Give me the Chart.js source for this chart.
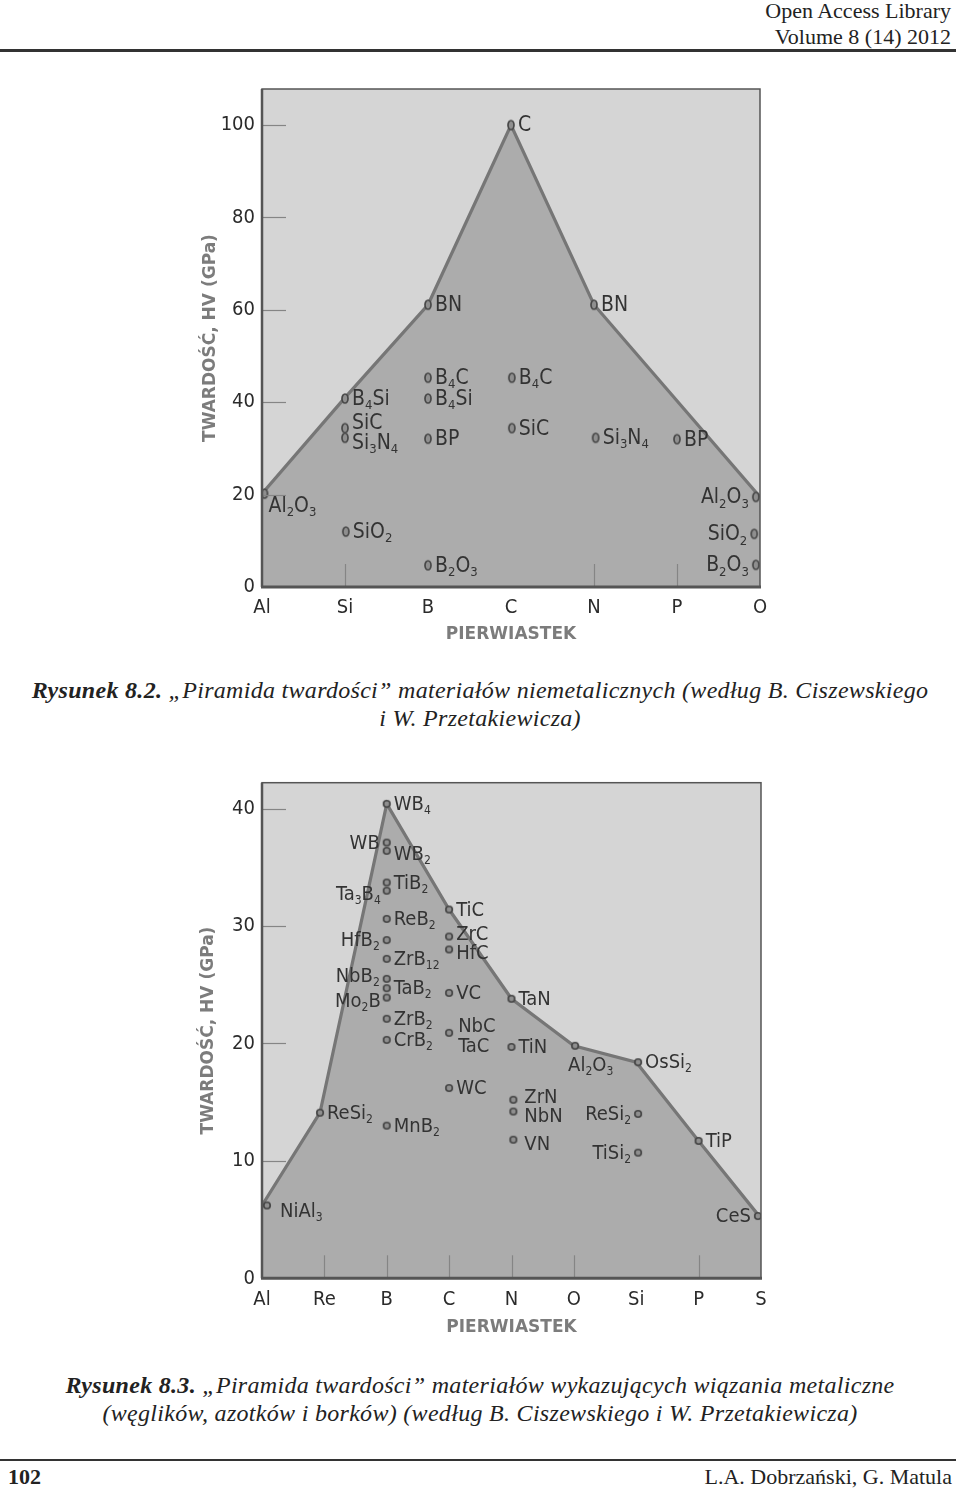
<!DOCTYPE html>
<html lang="pl">
<head>
<meta charset="UTF-8">
<title>Piramida twardości</title>
<script src="https://cdn.jsdelivr.net/npm/chart.js@4.4.1/dist/chart.umd.min.js"></script>
<style>
  body { margin: 0; background: #fff; }
  #page { position: relative; width: 960px; height: 1492px; overflow: hidden;
          font-family: "Liberation Serif", "Times New Roman", serif; color: #222; }
  .head { position: absolute; right: 9px; top: -2px; text-align: right; font-size: 22px; line-height: 26px; }
  .rule { position: absolute; left: 0; width: 956px; background: #333; }
  .cap { position: absolute; left: 0; width: 960px; text-align: center; font-style: italic;
         font-size: 24px; letter-spacing: 0.3px; line-height: 28px; white-space: nowrap; }
  .foot { position: absolute; top: 1464px; font-size: 22px; line-height: 26px; }
  .box { position: absolute; left: 0; width: 960px; height: 590px; }
</style>
</head>
<body>
<div id="page">
  <div class="head">Open Access Library<br>Volume 8 (14) 2012</div>
  <div class="rule" style="top:49px;height:3px"></div>

  <div class="box" style="top:70px"><canvas id="chart82" width="960" height="590"></canvas></div>
  <div class="cap" style="top:676px"><b>Rysunek 8.2.</b> „Piramida twardości” materiałów niemetalicznych (według B. Ciszewskiego<br>i W. Przetakiewicza)</div>

  <div class="box" style="top:760px"><canvas id="chart83" width="960" height="590"></canvas></div>
  <div class="cap" style="top:1371px"><b>Rysunek 8.3.</b> „Piramida twardości” materiałów wykazujących wiązania metaliczne<br>(węglików, azotków i borków) (według B. Ciszewskiego i W. Przetakiewicza)</div>

  <div class="rule" style="top:1459px;height:2px"></div>
  <div class="foot" style="left:8px;font-weight:bold">102</div>
  <div class="foot" style="right:8px">L.A. Dobrzański, G. Matula</div>
</div>

<script>
  const FONT = '"DejaVu Sans Condensed", "Liberation Sans Narrow", Roboto, sans-serif';
  const FONT_B = '"DejaVu Sans", Roboto, sans-serif';

  // Rysunek 8.2 - materialy niemetaliczne
  const elements1 = ['Al', 'Si', 'B', 'C', 'N', 'P', 'O'];
  const tickMarks1 = [1, 4, 5];
  const edgeX1 = [0, 1, 2, 3, 4, 6];
  const edgeY1 = [20.2, 41, 61.1, 100, 61.1, 19.5];
  const names1 = ['Al2O3', 'B4Si', 'SiC', 'Si3N4', 'SiO2', 'BN', 'B4C', 'B4Si', 'BP', 'B2O3',
                  'C', 'B4C', 'SiC', 'BN', 'Si3N4', 'BP', 'Al2O3', 'SiO2', 'B2O3'];
  const posX1 = [0.03, 1, 1, 1, 1.01, 2, 2, 2, 2, 2, 3, 3.01, 3.01, 4, 4.02, 5, 5.95, 5.93, 5.95];
  const hv1 = [20.2, 40.8, 34.4, 32.3, 12, 61.1, 45.3, 40.8, 32.1, 4.7, 100, 45.3, 34.4, 61.1, 32.3, 32, 19.5, 11.5, 4.8];
  const place1 = ['rb', 'r', 'r--', 'r++', 'r', 'r', 'r', 'r', 'r', 'r', 'r', 'r', 'r', 'r', 'r', 'r', 'l', 'l', 'l'];

  // Rysunek 8.3 - materialy z wiazaniem metalicznym
  const elements2 = ['Al', 'Re', 'B', 'C', 'N', 'O', 'Si', 'P', 'S'];
  const tickMarks2 = [1, 2, 3, 4, 5, 7];
  const edgeX2 = [0, 0.93, 2, 3, 4, 5, 6, 7, 8];
  const edgeY2 = [6.2, 14.1, 40.4, 31.4, 23.8, 19.8, 18.4, 11.7, 5.1];
  const names2 = ['NiAl3', 'ReSi2', 'WB4', 'WB', 'WB2', 'TiB2', 'Ta3B4', 'ReB2', 'HfB2', 'ZrB12', 'NbB2',
                  'TaB2', 'Mo2B', 'ZrB2', 'CrB2', 'MnB2', 'TiC', 'ZrC', 'HfC', 'VC', 'NbC\nTaC', 'WC',
                  'TaN', 'TiN', 'ZrN', 'NbN', 'VN', 'Al2O3', 'OsSi2', 'ReSi2', 'TiSi2', 'TiP', 'CeS'];
  const posX2 = [0.08, 0.93, 2, 2, 2, 2, 2, 2, 2, 2, 2, 2, 2, 2, 2, 2, 3, 3, 3, 3, 3, 3,
                 4, 4, 4.03, 4.03, 4.03, 5.02, 6.03, 6.03, 6.03, 7, 7.95];
  const hv2 = [6.2, 14.1, 40.4, 37.1, 36.4, 33.7, 33.0, 30.6, 28.8, 27.2, 25.5, 24.7, 23.9, 22.1, 20.3, 13.0,
               31.4, 29.1, 28.0, 24.3, 20.9, 16.2, 23.8, 19.7, 15.2, 14.2, 11.8, 19.8, 18.4, 14.0, 10.7, 11.7, 5.3];
  const place2 = ['rni', 'r', 'r', 'l', 'r+', 'r', 'l+', 'r', 'l', 'r', 'l-', 'r', 'l+', 'r', 'r', 'r',
                  'r', 'r-', 'r+', 'r', 'ru', 'r', 'r', 'r', 'rz', 'rn', 'rn', 'b', 'r', 'l', 'l', 'r', 'l'];

  // przesuniecie opisu wzgledem punktu: dx, dy, wyrownanie
  const PLACE = {
    'r': [7, 1, 'left'], 'r+': [7, 4, 'left'], 'r-': [7, -2, 'left'],
    'r++': [7, 6, 'left'], 'r--': [7, -5, 'left'],
    'l': [-7, 1, 'right'], 'l+': [-6, 4, 'right'], 'l-': [-7, -2, 'right'],
    'rb': [4, 13, 'left'], 'rz': [11, -2, 'left'], 'rn': [11, 5, 'left'],
    'ru': [9, -6, 'left'], 'b': [-7, 20, 'left'], 'rni': [13, 6, 'left']
  };

  // wzor chemiczny: cyfry jako indeksy dolne
  function drawFormula(ctx, txt, x, y, align, size) {
    const parts = txt.split(/(\d+)/).filter(s => s);
    const sub = Math.round(size * 0.62);
    let w = 0;
    parts.forEach(p => {
      ctx.font = (/^\d/.test(p) ? sub : size) + 'px ' + FONT;
      w += ctx.measureText(p).width;
    });
    let cx = align === 'right' ? x - w : x;
    ctx.textAlign = 'left';
    ctx.textBaseline = 'middle';
    parts.forEach(p => {
      const isSub = /^\d/.test(p);
      ctx.font = (isSub ? sub : size) + 'px ' + FONT;
      ctx.fillText(p, cx, isSub ? y + size * 0.3 : y);
      cx += ctx.measureText(p).width;
    });
  }

  // znacznik punktu (elipsa)
  function dot(w, h) {
    const c = document.createElement('canvas');
    c.width = w + 4; c.height = h + 4;
    const g = c.getContext('2d');
    g.beginPath();
    g.ellipse(c.width / 2, c.height / 2, w / 2, h / 2, 0, 0, Math.PI * 2);
    g.fillStyle = '#8f8f8f';
    g.fill();
    g.lineWidth = 1.7;
    g.strokeStyle = '#474747';
    g.stroke();
    return c;
  }

  function pyramid(id, o) {
    const pts = o.x.map((x, i) => ({ x: x, y: o.y[i] }));
    const edge = o.edgeX.map((x, i) => ({ x: x, y: o.edgeY[i] }));

    const deco = {
      id: 'deco',
      beforeDatasetsDraw(chart) {
        const a = chart.chartArea, ctx = chart.ctx;
        ctx.save();
        ctx.fillStyle = '#d5d5d5';
        ctx.fillRect(a.left, a.top, a.width, a.height);
        ctx.restore();
      },
      afterDatasetsDraw(chart) {
        const a = chart.chartArea, ctx = chart.ctx;
        const sx = chart.scales.x, sy = chart.scales.y;
        ctx.save();
        ctx.strokeStyle = '#858585';
        ctx.lineWidth = 1.2;
        sy.ticks.forEach(t => {
          if (t.value <= 0) return;
          const py = Math.round(sy.getPixelForValue(t.value)) + 0.5;
          ctx.beginPath(); ctx.moveTo(a.left, py); ctx.lineTo(a.left + 24, py); ctx.stroke();
        });
        o.tickMarks.forEach(v => {
          const px = Math.round(sx.getPixelForValue(v)) + 0.5;
          ctx.beginPath(); ctx.moveTo(px, a.bottom); ctx.lineTo(px, a.bottom - 23); ctx.stroke();
        });
        ctx.fillStyle = '#333';
        o.names.forEach((n, i) => {
          const pl = PLACE[o.place[i]];
          const px = sx.getPixelForValue(o.x[i]) + pl[0];
          const py = sy.getPixelForValue(o.y[i]) + pl[1];
          n.split('\n').forEach((line, k) => drawFormula(ctx, line, px, py + k * 20, pl[2], o.labelSize));
        });
        ctx.restore();
      },
      afterDraw(chart) {
        const a = chart.chartArea, ctx = chart.ctx;
        ctx.save();
        ctx.strokeStyle = '#555';
        ctx.lineWidth = 1.5;
        ctx.strokeRect(a.left, a.top, a.width, a.height);
        ctx.lineWidth = 3;
        ctx.beginPath(); ctx.moveTo(a.left - 1, a.bottom); ctx.lineTo(a.right + 1, a.bottom); ctx.stroke();
        ctx.lineWidth = 2.5;
        ctx.beginPath(); ctx.moveTo(a.left, a.top); ctx.lineTo(a.left, a.bottom); ctx.stroke();
        ctx.restore();
      }
    };

    new Chart(document.getElementById(id), {
      type: 'scatter',
      data: {
        datasets: [
          { type: 'line', data: edge, borderColor: '#767676', borderWidth: 3.2, backgroundColor: '#acacac',
            fill: 'origin', pointRadius: 0, tension: 0, order: 2 },
          { data: pts, pointStyle: o.marker, pointRadius: 4, order: 1 }
        ]
      },
      options: {
        responsive: false,
        animation: false,
        events: [],
        layout: { padding: o.pad },
        plugins: { legend: { display: false }, tooltip: { enabled: false } },
        scales: {
          x: {
            type: 'linear', min: 0, max: o.cats.length - 1,
            afterFit: s => { s.height = o.xh; },
            grid: { display: false, drawTicks: false }, border: { display: false },
            ticks: { stepSize: 1, autoSkip: false, maxRotation: 0, padding: 9, color: '#2b2b2b',
                     font: { family: FONT, size: 20 }, callback: v => o.cats[v] },
            title: { display: true, text: 'PIERWIASTEK', color: '#7c7c7c',
                     font: { family: FONT_B, size: 17, weight: 'bold' }, padding: { top: 4, bottom: 4 } }
          },
          y: {
            min: 0, max: o.ymax,
            afterFit: s => { s.width = o.yw; },
            grid: { display: false, drawTicks: false }, border: { display: false },
            ticks: { stepSize: o.step, includeBounds: false, padding: 7, color: '#2b2b2b',
                     font: { family: FONT, size: 20 } },
            title: { display: true, text: 'TWARDOŚĆ, HV (GPa)', color: '#7c7c7c',
                     font: { family: FONT_B, size: 17, weight: 'bold' }, padding: { top: 4, bottom: 4 } }
          }
        }
      },
      plugins: [deco]
    });
  }

  pyramid('chart82', {
    cats: elements1, tickMarks: tickMarks1, edgeX: edgeX1, edgeY: edgeY1,
    names: names1, x: posX1, y: hv1, place: place1,
    ymax: 107.8, step: 20, labelSize: 21, marker: dot(6, 9),
    pad: { left: 196, right: 200, top: 18, bottom: 10.8 }, yw: 66, xh: 62.2
  });

  pyramid('chart83', {
    cats: elements2, tickMarks: tickMarks2, edgeX: edgeX2, edgeY: edgeY2,
    names: names2, x: posX2, y: hv2, place: place2,
    ymax: 42.2, step: 10, labelSize: 20, marker: dot(6.5, 6.5),
    pad: { left: 194, right: 199, top: 22.7, bottom: 7.8 }, yw: 68, xh: 63.9
  });
</script>
</body>
</html>
